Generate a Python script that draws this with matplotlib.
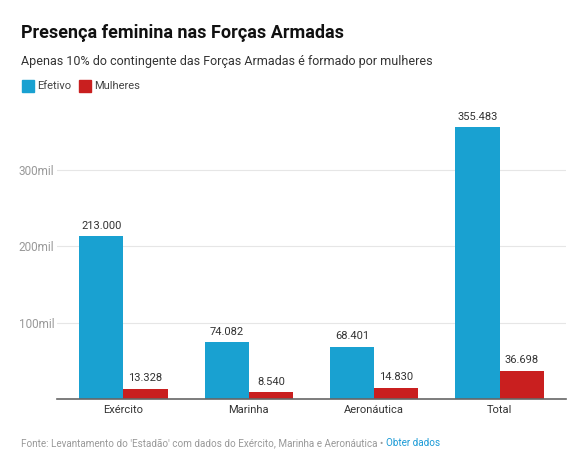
import numpy as np
import matplotlib.pyplot as plt
from matplotlib.patches import Rectangle

plt.rcParams['font.family'] = ['Roboto', 'DejaVu Sans']

# Data
categories = ['Exército', 'Marinha', 'Aeronáutica', 'Total']
efetivo = [213000, 74082, 68401, 355483]
mulheres = [13328, 8540, 14830, 36698]
yticks = [100000, 200000, 300000]
ytick_labels = ['100mil', '200mil', '300mil']

blue = '#19a1d1'
red = '#c91f1f'

def fmt(v):
    return f"{v:,}".replace(',', '.')

fig = plt.figure(figsize=(5.7, 4.66), dpi=100)
ax = fig.add_axes([0.1, 0.1438, 0.893, 0.64])

x = np.arange(len(categories))
w = 0.352
b1 = ax.bar(x - w / 2, efetivo, w, color=blue, zorder=2)
b2 = ax.bar(x + w / 2, mulheres, w, color=red, zorder=2)

for bars, vals in [(b1, efetivo), (b2, mulheres)]:
    for r, v in zip(bars, vals):
        ax.annotate(fmt(v), (r.get_x() + r.get_width() / 2, v), xytext=(0, 4),
                    textcoords='offset points', ha='center', va='bottom',
                    fontsize=8, color='#333333')

ax.set_xlim(-0.53, 3.53)
ax.set_ylim(0, 390000)
ax.set_yticks(yticks)
ax.set_yticklabels(ytick_labels)
ax.set_xticks(x)
ax.set_xticklabels(categories)
ax.grid(axis='y', color='#e6e6e6', linewidth=0.8, zorder=0)
ax.tick_params(axis='y', length=0, labelsize=8.5, labelcolor='#999999', pad=2)
ax.tick_params(axis='x', length=0, labelsize=8, labelcolor='#333333', pad=4)
for s in ['top', 'right', 'left']:
    ax.spines[s].set_visible(False)
ax.spines['bottom'].set_color('#666666')
ax.spines['bottom'].set_linewidth(1.2)
ax.spines['bottom'].set_bounds(-0.53, 3.53)

# Titles
fig.text(21 / 570, 1 - 33 / 466, 'Presença feminina nas Forças Armadas',
         fontsize=13, fontweight='bold', color='#111111', va='center')
fig.text(21 / 570, 1 - 61 / 466,
         'Apenas 10% do contingente das Forças Armadas é formado por mulheres',
         fontsize=9, color='#333333', va='center')

# Legend
for lx, color, label in [(22, blue, 'Efetivo'), (79, red, 'Mulheres')]:
    fig.patches.append(Rectangle((lx / 570, 1 - 92 / 466), 12 / 570, 12 / 466,
                                 transform=fig.transFigure, color=color))
    fig.text((lx + 15) / 570, 1 - 86 / 466, label, fontsize=8, color='#444444', va='center')

# Footer
t = fig.text(21 / 570, 1 - 443 / 466,
             "Fonte: Levantamento do 'Estadão' com dados do Exército, Marinha e Aeronáutica • ",
             fontsize=7.1, color='#999999', va='center')
fig.canvas.draw()
bb = t.get_window_extent()
fig.text(bb.x1 / fig.bbox.width, 1 - 443 / 466, 'Obter dados', fontsize=7.1,
         color='#1a9ad6', va='center')

fig.savefig('out.png', dpi=100)
